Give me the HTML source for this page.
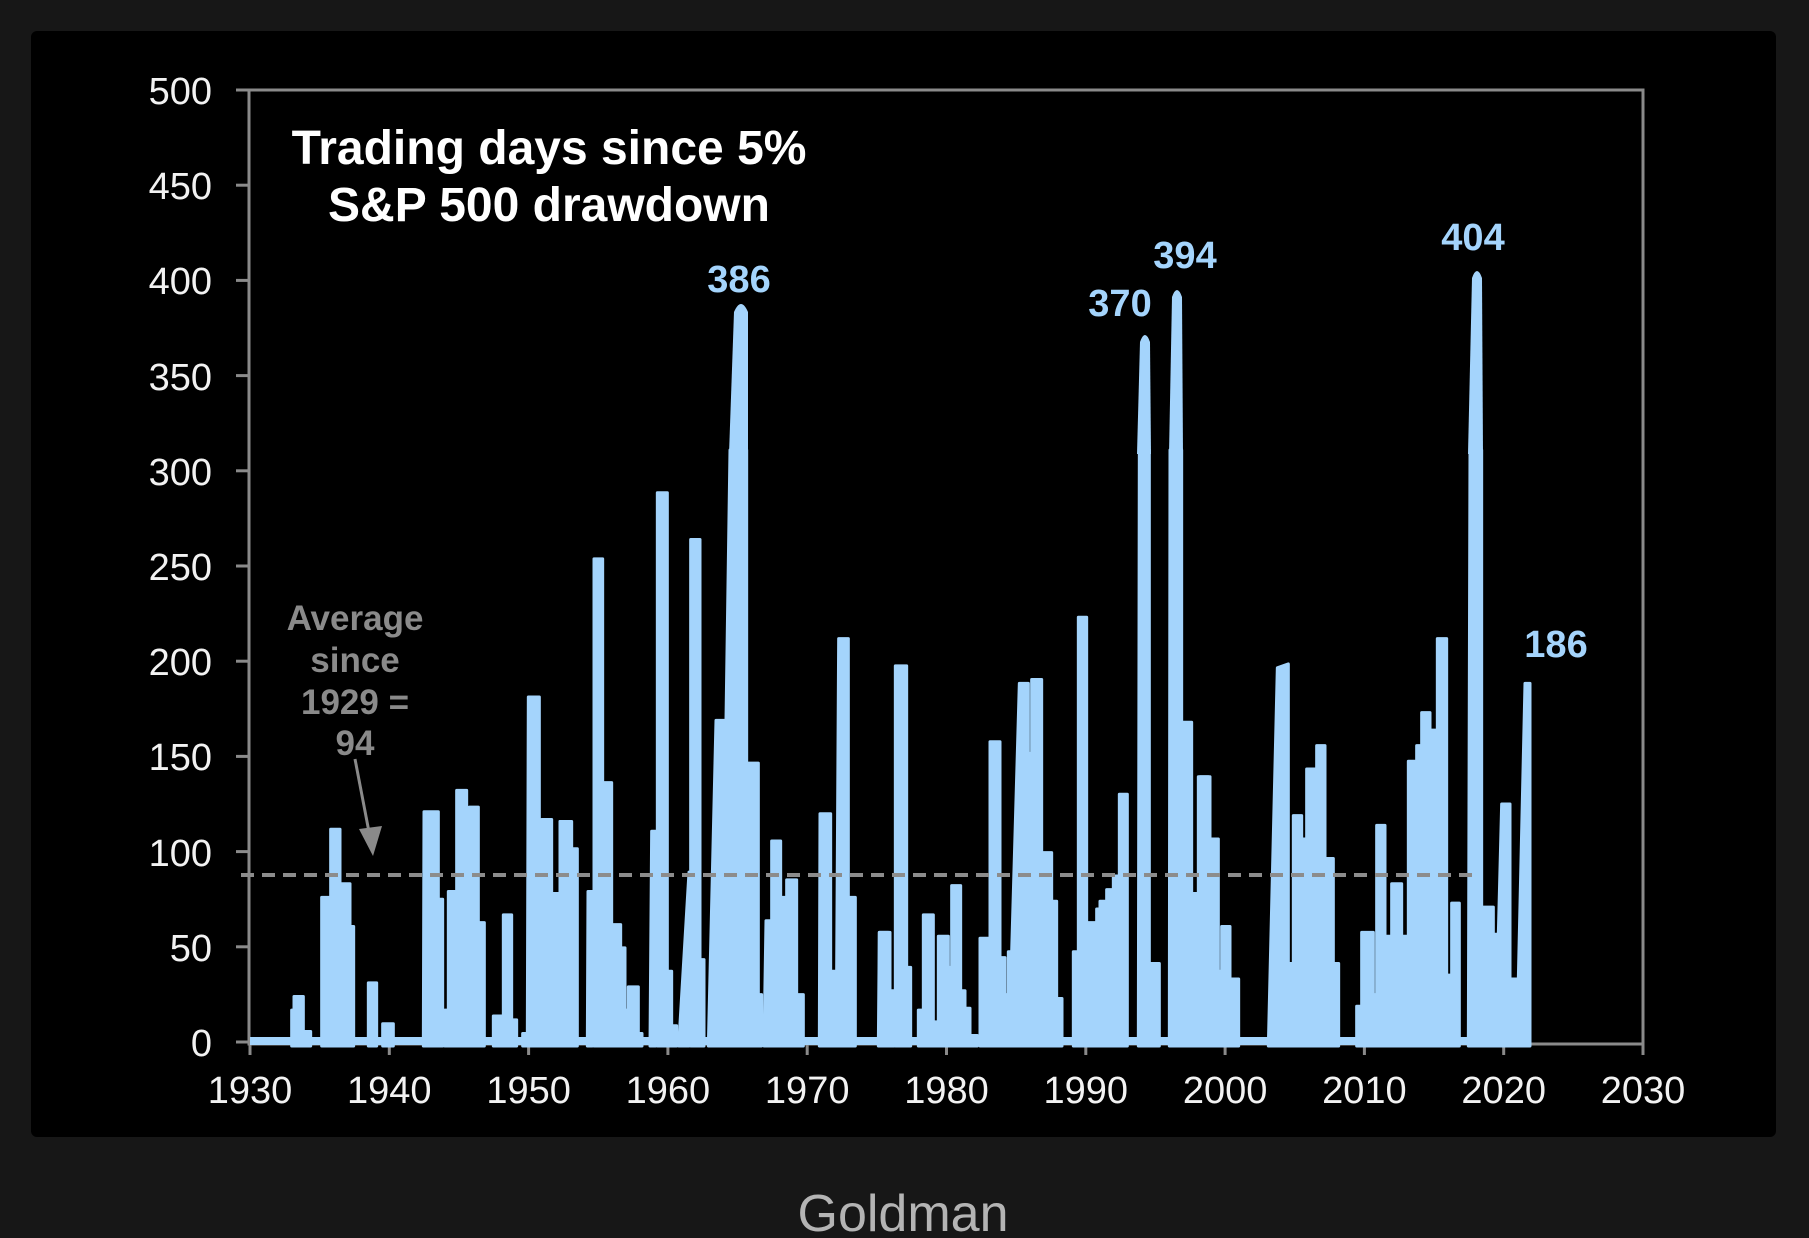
<!DOCTYPE html>
<html><head><meta charset="utf-8"><style>
html,body{margin:0;padding:0;background:#171717;}
svg{display:block;}
text{font-family:"Liberation Sans",Arial,sans-serif;}
</style></head><body>
<svg width="1809" height="1238" viewBox="0 0 1809 1238" xmlns="http://www.w3.org/2000/svg">
<rect x="0" y="0" width="1809" height="1238" fill="#171717"/>
<rect x="31" y="31" width="1745" height="1106" rx="6" fill="#000"/>

<!-- frame -->
<g stroke="#8a8a8a" stroke-width="3" fill="none">
<path d="M249,90 L1643,90 L1643,1044 M249,90 L249,1044 L1643,1044"/>
</g>
<!-- ticks -->
<g stroke="#8a8a8a" stroke-width="3">
<line x1="236" y1="90" x2="249" y2="90"/>
<line x1="236" y1="185.2" x2="249" y2="185.2"/>
<line x1="236" y1="280.4" x2="249" y2="280.4"/>
<line x1="236" y1="375.6" x2="249" y2="375.6"/>
<line x1="236" y1="470.8" x2="249" y2="470.8"/>
<line x1="236" y1="566" x2="249" y2="566"/>
<line x1="236" y1="661.2" x2="249" y2="661.2"/>
<line x1="236" y1="756.4" x2="249" y2="756.4"/>
<line x1="236" y1="851.6" x2="249" y2="851.6"/>
<line x1="236" y1="946.8" x2="249" y2="946.8"/>
<line x1="236" y1="1042" x2="249" y2="1042"/>
<line x1="250" y1="1044" x2="250" y2="1055"/>
<line x1="389.3" y1="1044" x2="389.3" y2="1055"/>
<line x1="528.6" y1="1044" x2="528.6" y2="1055"/>
<line x1="667.9" y1="1044" x2="667.9" y2="1055"/>
<line x1="807.2" y1="1044" x2="807.2" y2="1055"/>
<line x1="946.5" y1="1044" x2="946.5" y2="1055"/>
<line x1="1085.8" y1="1044" x2="1085.8" y2="1055"/>
<line x1="1225.1" y1="1044" x2="1225.1" y2="1055"/>
<line x1="1364.4" y1="1044" x2="1364.4" y2="1055"/>
<line x1="1503.7" y1="1044" x2="1503.7" y2="1055"/>
<line x1="1643" y1="1044" x2="1643" y2="1055"/>
</g>

<!-- y labels -->
<g fill="#f2f2f2" font-size="38" text-anchor="end">
<text x="212" y="104">500</text>
<text x="212" y="199">450</text>
<text x="212" y="294">400</text>
<text x="212" y="390">350</text>
<text x="212" y="485">300</text>
<text x="212" y="580">250</text>
<text x="212" y="675">200</text>
<text x="212" y="770">150</text>
<text x="212" y="866">100</text>
<text x="212" y="961">50</text>
<text x="212" y="1056">0</text>
</g>
<!-- x labels -->
<g fill="#f2f2f2" font-size="38" text-anchor="middle">
<text x="250" y="1103">1930</text>
<text x="389.3" y="1103">1940</text>
<text x="528.6" y="1103">1950</text>
<text x="667.9" y="1103">1960</text>
<text x="807.2" y="1103">1970</text>
<text x="946.5" y="1103">1980</text>
<text x="1085.8" y="1103">1990</text>
<text x="1225.1" y="1103">2000</text>
<text x="1364.4" y="1103">2010</text>
<text x="1503.7" y="1103">2020</text>
<text x="1643" y="1103">2030</text>
</g>

<!-- series -->
<g fill="#a4d4fc">
<rect x="250" y="1037" width="1276" height="8"/>
<g transform="translate(240,450) scale(0.33333,0.389)" stroke="#a4d4fc" stroke-width="3" stroke-linejoin="round">
<path vector-effect="non-scaling-stroke" d="M155,1532 L155,1440 L162,1440 L162,1405 L190,1405 L190,1495 L212,1495 L212,1532 Z"/>
<path vector-effect="non-scaling-stroke" d="M245,1532 L245,1150 L272,1150 L272,975 L300,975 L300,1200 L305,1200 L305,1115 L330,1115 L330,1225 L341,1225 L341,1532 Z"/>
<path vector-effect="non-scaling-stroke" d="M385,1532 L385,1370 L410,1370 L410,1532 Z"/>
<path vector-effect="non-scaling-stroke" d="M428,1532 L428,1475 L460,1475 L460,1532 Z"/>
<path vector-effect="non-scaling-stroke" d="M550,1532 L552,930 L595,930 L595,1155 L608,1155 L608,1532 Z"/>
<path vector-effect="non-scaling-stroke" d="M614,1532 L614,1440 L625,1440 L625,1135 L650,1135 L650,875 L680,875 L680,1140 L688,1140 L688,918 L715,918 L715,1215 L733,1215 L733,1532 Z"/>
<path vector-effect="non-scaling-stroke" d="M760,1532 L760,1455 L790,1455 L790,1195 L815,1195 L815,1465 L830,1465 L830,1532 Z"/>
<path vector-effect="non-scaling-stroke" d="M848,1532 L848,1500 L862,1500 L865,635 L898,635 L898,1200 L905,1200 L905,950 L935,950 L935,1140 L955,1140 L955,1240 L960,1240 L960,955 L990,955 L990,1532 Z"/>
</g>
<g transform="translate(560,450) scale(0.33333,0.389)" stroke="#a4d4fc" stroke-width="3" stroke-linejoin="round">
<path vector-effect="non-scaling-stroke" d="M0,1532 L0,955 L35,955 L35,1025 L52,1025 L52,1532 Z"/>
<path vector-effect="non-scaling-stroke" d="M82,1532 L84,1135 L97,1135 L97,1532 Z"/>
<path vector-effect="non-scaling-stroke" d="M102,1532 L102,280 L128,280 L128,855 L155,855 L155,1220 L182,1220 L182,1280 L195,1280 L195,1440 L205,1440 L205,1380 L235,1380 L235,1500 L246,1500 L246,1532 Z"/>
<path vector-effect="non-scaling-stroke" d="M270,1532 L275,980 L287,980 L287,1532 Z"/>
<path vector-effect="non-scaling-stroke" d="M292,1532 L292,110 L322,110 L322,1340 L335,1340 L335,1480 L350,1480 L350,1532 Z"/>
<path vector-effect="non-scaling-stroke" d="M356,1532 L387,1085 L387,1532 Z"/>
<path vector-effect="non-scaling-stroke" d="M392,1532 L392,230 L420,230 L420,1310 L432,1310 L432,1532 Z"/>
<path vector-effect="non-scaling-stroke" d="M445,1532 L468,695 L498,695 L510,0 L560,0 L560,805 L595,805 L595,1400 L605,1400 L605,1532 Z"/>
<path vector-effect="non-scaling-stroke" d="M612,1532 L618,1210 L635,1210 L635,1005 L662,1005 L662,1150 L680,1150 L680,1105 L710,1105 L710,1400 L730,1400 L730,1532 Z"/>
<path vector-effect="non-scaling-stroke" d="M778,1532 L780,935 L812,935 L812,1340 L830,1340 L836,485 L865,485 L865,1150 L886,1150 L886,1532 Z"/>
<path vector-effect="non-scaling-stroke" d="M955,1532 L958,1240 L990,1240 L990,1532 Z"/>
</g>
<g transform="translate(880,450) scale(0.33333,0.389)" stroke="#a4d4fc" stroke-width="3" stroke-linejoin="round">
<path vector-effect="non-scaling-stroke" d="M-2,1532 L-2,1240 L25,1240 L25,1390 L42,1390 L42,1532 Z"/>
<path vector-effect="non-scaling-stroke" d="M46,1532 L46,555 L80,555 L80,1330 L92,1330 L92,1532 Z"/>
<path vector-effect="non-scaling-stroke" d="M115,1532 L115,1440 L130,1440 L130,1195 L160,1195 L160,1470 L175,1470 L175,1250 L205,1250 L205,1330 L215,1330 L215,1120 L242,1120 L242,1390 L255,1390 L255,1435 L270,1435 L270,1505 L292,1505 L292,1532 Z"/>
<path vector-effect="non-scaling-stroke" d="M300,1532 L300,1255 L330,1255 L330,750 L360,750 L360,1305 L375,1305 L375,1400 L385,1400 L385,1290 L395,1290 L418,600 L445,600 L445,780 L455,780 L455,590 L485,590 L485,1035 L515,1035 L515,1160 L530,1160 L530,1410 L546,1410 L546,1532 Z"/>
<path vector-effect="non-scaling-stroke" d="M580,1532 L580,1290 L595,1290 L595,430 L620,430 L620,1215 L650,1215 L650,1180 L660,1180 L660,1160 L680,1160 L680,1130 L700,1130 L700,1095 L718,1095 L718,885 L742,885 L742,1532 Z"/>
<path vector-effect="non-scaling-stroke" d="M775,1532 L778,0 L808,0 L808,1320 L838,1320 L838,1532 Z"/>
<path vector-effect="non-scaling-stroke" d="M868,1532 L870,0 L905,0 L905,700 L935,700 L935,1140 L955,1140 L955,840 L990,840 L990,1532 Z"/>
</g>
<g transform="translate(1200,450) scale(0.33333,0.389)" stroke="#a4d4fc" stroke-width="3" stroke-linejoin="round">
<path vector-effect="non-scaling-stroke" d="M0,1532 L0,840 L25,840 L25,1000 L55,1000 L55,1340 L65,1340 L65,1225 L90,1225 L90,1360 L116,1360 L116,1532 Z"/>
<path vector-effect="non-scaling-stroke" d="M205,1532 L232,560 L265,550 L265,1320 L280,1320 L280,940 L305,940 L305,1000 L320,1000 L320,820 L350,820 L350,760 L375,760 L375,1050 L400,1050 L400,1320 L416,1320 L416,1532 Z"/>
<path vector-effect="non-scaling-stroke" d="M470,1532 L470,1430 L485,1430 L485,1240 L520,1240 L520,1400 L530,1400 L530,965 L555,965 L555,1250 L575,1250 L575,1115 L605,1115 L605,1250 L625,1250 L625,800 L650,800 L650,760 L665,760 L665,675 L690,675 L690,720 L712,720 L712,485 L740,485 L740,1350 L755,1350 L755,1165 L778,1165 L778,1532 Z"/>
<path vector-effect="non-scaling-stroke" d="M805,1532 L810,0 L845,0 L845,1175 L880,1175 L880,1245 L895,1245 L905,910 L930,910 L930,1360 L955,1360 L975,600 L990,600 L990,1532 Z"/>
</g>
<!-- tall spikes above y=450 -->
<path d="M729,454 L734,312 Q741,296 748,312 L748,454 Z"/>
<path d="M1137,454 L1140,342 Q1145,328 1150,342 L1151,454 Z"/>
<path d="M1169,454 L1172,297 Q1177,283 1182,297 L1183,454 Z"/>
<path d="M1468,454 L1472,278 Q1477,264 1482,278 L1483,454 Z"/>
</g>

<!-- average dashed line -->
<line x1="241" y1="875" x2="1475" y2="875" stroke="#8c8c8c" stroke-width="4" stroke-dasharray="13 8"/>

<!-- annotation -->
<g fill="#8a8a8a" font-size="35" font-weight="bold" text-anchor="middle">
<text x="355" y="630">Average</text>
<text x="355" y="672">since</text>
<text x="355" y="714">1929 =</text>
<text x="355" y="755">94</text>
</g>
<line x1="355" y1="759" x2="369" y2="832" stroke="#8a8a8a" stroke-width="3"/>
<path d="M359,829 L382,826 L373,856 Z" fill="#8a8a8a"/>

<!-- title -->
<g fill="#ffffff" font-size="48" font-weight="bold" text-anchor="middle">
<text x="549" y="164">Trading days since 5%</text>
<text x="549" y="221">S&amp;P 500 drawdown</text>
</g>

<!-- data labels -->
<g fill="#a4d4fc" font-size="38" font-weight="bold" text-anchor="middle">
<text x="739" y="292">386</text>
<text x="1120" y="316">370</text>
<text x="1185" y="268">394</text>
<text x="1473" y="250">404</text>
<text x="1556" y="657">186</text>
</g>

<!-- source -->
<text x="903" y="1231" fill="#b4b4b4" font-size="52" text-anchor="middle">Goldman</text>
</svg>
</body></html>
